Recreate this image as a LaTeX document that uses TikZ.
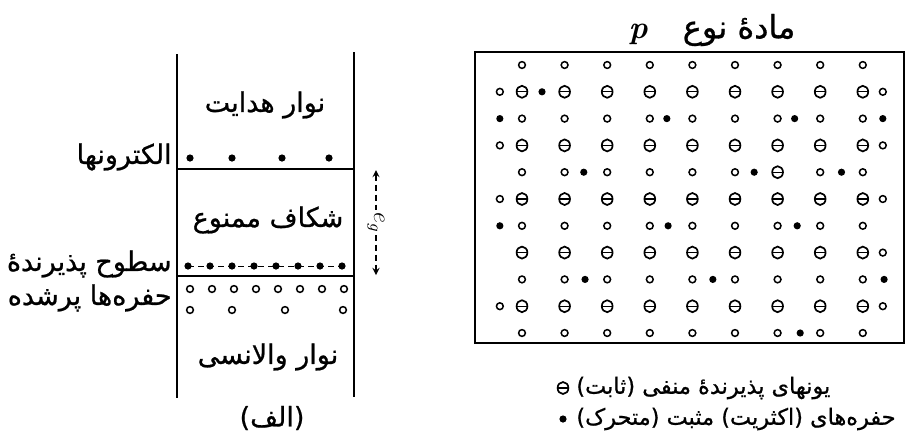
\documentclass[tikz,border=0pt]{standalone}
\usepackage{fontspec}
\newfontfamily\fafont[Script=Arabic, FakeBold=0.8]{DejaVu Sans}
\TeXXeTstate=1
\usetikzlibrary{shapes,arrows}
\tikzset{
  band/.style={line width=1.3pt},
  edge/.style={line width=0.9pt},
  farsi/.style={font=\fafont\fontsize{13.5}{15}\selectfont, inner sep=0pt},
  keytext/.style={font=\fafont\fontsize{11.2}{13}\selectfont, inner sep=0pt, anchor=west},
  hole/.style={circle, draw, line width=0.75pt, inner sep=0pt, minimum size=3.4pt},
  ion/.style={ellipse, draw, line width=0.85pt, inner sep=0pt, minimum width=5.4pt,
              minimum height=6pt,
              path picture={\draw[line width=0.6pt] (path picture bounding box.west)
                            -- (path picture bounding box.east);}},
  carrier/.style={circle, fill, inner sep=0pt, minimum size=3.6pt},
  egarrow/.style={<->, >=stealth, densely dashed, line width=0.6pt},
}

\begin{document}
\begin{tikzpicture}[x=0.5pt, y=-0.5pt]
\useasboundingbox (0,0) rectangle (906,435);

% -------------------- (a) band diagram --------------------
\draw[band] (177,54) -- (177,398);
\draw[band] (354,52) -- (354,397);
\draw[edge] (177,169) -- (354,169);
\draw[edge] (177,276) -- (354,276);

\node[farsi] (cband) at (265,105) {\beginR نوار هدایت\endR};
\node[farsi] (gap) at (268,220) {\beginR شکاف ممنوع\endR};
\node[farsi] (vband) at (268,357) {\beginR نوار والانسی\endR};
\node[farsi] (capa) at (272,418) {\beginR (الف)\endR};

% electrons in the conduction band
\foreach \x [count=\i] in {190,232,282,329}
  \node[carrier] (el\i) at (\x,158) {};

% acceptor levels
\draw[densely dashed, line width=0.5pt] (188,266) -- (342,266);
\foreach \k in {0,...,7}
  \node[carrier] (acc\k) at ({188+22*\k},266) {};

% holes in the valence band
\foreach \k in {0,...,7}
  \node[hole] (vh\k) at ({190+22*\k},289) {};
\foreach \x [count=\i] in {190,232,285,343}
  \node[hole] (vhh\i) at (\x,310) {};

% side labels
\node[farsi, anchor=east] (elabel) at (172,157) {\beginR الکترونها\endR};
\node[farsi, anchor=east] (alabel) at (172,264) {\beginR سطوح پذیرندهٔ\endR};
\node[farsi, anchor=east] (hlabel) at (172,298) {\beginR حفره‌ها پرشده\endR};

% gap width
\coordinate (egtop) at (376,170);
\coordinate (egbot) at (376,275);
\draw[egarrow] (egtop) -- (egbot)
  node[midway, fill=white, inner sep=1pt, rotate=-90, font=\large] (eg) {$e_g$};

% -------------------- (b) p-type crystal --------------------
\node[farsi, font=\fafont\fontsize{16}{18}\selectfont] (title) at (712,30)
  {\beginR مادهٔ نوع\hspace{1.1em}{\normalfont\bfseries\itshape p}\endR};
\draw[band] (475,52) rectangle (904,343);

% fixed acceptor ions
\foreach \r in {1,3,5,7,9}
  \foreach \c in {0,...,8}
    \node[ion] (ion-\r-\c) at ({522+42.6*\c},{65+26.8*\r}) {};
\node[ion] (ion-4-6) at ({522+42.6*6},{65+26.8*4}) {};

% empty sites
\foreach \r in {0,2,6,8,10}
  \foreach \c in {0,...,8}
    \node[hole] (site-\r-\c) at ({522+42.6*\c},{65+26.8*\r}) {};
\foreach \c in {0,1,2,3,4,5,7,8}
  \node[hole] (site-4-\c) at ({522+42.6*\c},{65+26.8*4}) {};
\foreach \c/\r [count=\i] in {-0.52/1,-0.52/3,-0.52/5,-0.52/9,
                              8.47/1,8.47/3,8.47/5,8.47/7,8.47/9}
  \node[hole] (edge\i) at ({522+42.6*\c},{65+26.8*\r}) {};

% mobile holes
\foreach \c/\r [count=\i] in {0.47/1,-0.52/2,3.4/2,6.4/2,8.47/2,
                              1.45/4,5.45/4,7.5/4,-0.52/6,3.43/6,6.46/6,
                              1.48/8,4.48/8,8.5/8,6.53/10}
  \node[carrier] (free\i) at ({522+42.6*\c},{65+26.8*\r}) {};

% legend
\node[ion] (keyion) at (563,388) {};
\node[keytext] (keyiontext) at (576,388)
  {\beginR یونهای پذیرندهٔ منفی (ثابت)\endR};
\node[carrier] (keyhole) at (563,419) {};
\node[keytext] (keyholetext) at (576,419)
  {\beginR حفره‌های (اکثریت) مثبت (متحرک)\endR};

\end{tikzpicture}
\end{document}
